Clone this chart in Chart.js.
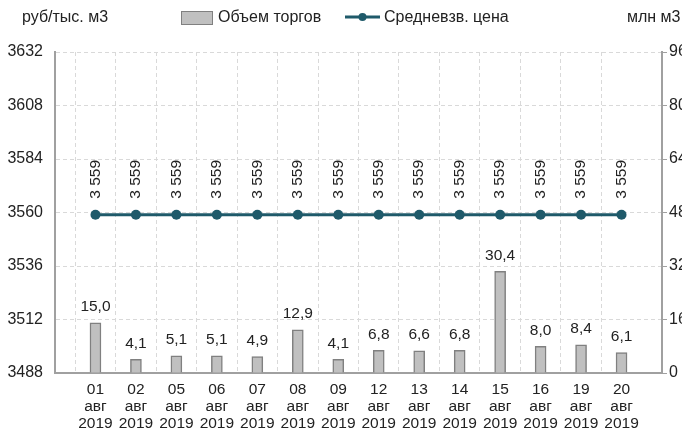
<!DOCTYPE html>
<html>
<head>
<meta charset="utf-8">
<script src="https://cdn.jsdelivr.net/npm/chart.js@4"></script>
<style>
  html, body { margin: 0; padding: 0; background: #fff; }
  #wrap { width: 682px; height: 436px; position: relative; }
</style>
</head>
<body>
<div id="wrap"><canvas id="chart"></canvas></div>
<script>
const dates = ["01", "02", "05", "06", "07", "08", "09", "12", "13", "14", "15", "16", "19", "20"];
const month = "авг";
const year = "2019";
const volumes = [15.0, 4.1, 5.1, 5.1, 4.9, 12.9, 4.1, 6.8, 6.6, 6.8, 30.4, 8.0, 8.4, 6.1];
const prices = [3559, 3559, 3559, 3559, 3559, 3559, 3559, 3559, 3559, 3559, 3559, 3559, 3559, 3559];
const priceTicks = { min: 3488, max: 3632, step: 24 };
const volumeTicks = { min: 0, max: 96, step: 16 };

const FONT = "'Liberation Sans', Arial, sans-serif";
const TEXT = "#222";
const LINE_COLOR = "#1f5a6a";
const GRID = "#d9d9d9";
const AXIS = "#a0a0a0";

const fmtVol = (v) => v.toFixed(1).replace(".", ",");
const fmtPrice = (v) => String(v).replace(/\B(?=(\d{3})+(?!\d))/g, " ");

const labelsPlugin = {
  id: "labels",
  afterDatasetsDraw(chart) {
    const ctx = chart.ctx;
    ctx.save();
    ctx.fillStyle = TEXT;
    ctx.font = `15.5px ${FONT}`;

    const bars = chart.getDatasetMeta(0).data;
    ctx.textAlign = "center";
    ctx.textBaseline = "bottom";
    bars.forEach((b, i) => ctx.fillText(fmtVol(volumes[i]), b.x, b.y - 8));

    const pts = chart.getDatasetMeta(1).data;
    pts.forEach((p, i) => {
      ctx.save();
      ctx.translate(p.x, p.y - 16);
      ctx.rotate(-Math.PI / 2);
      ctx.textAlign = "left";
      ctx.textBaseline = "middle";
      ctx.fillText(fmtPrice(prices[i]), 0, 0);
      ctx.restore();
    });
    ctx.restore();
  },
  afterDraw(chart) {
    const ctx = chart.ctx;
    ctx.save();
    ctx.font = `16px ${FONT}`;
    ctx.fillStyle = TEXT;
    ctx.textBaseline = "middle";
    ctx.textAlign = "left";
    ctx.fillText("руб/тыс. м3", 22, 18);
    ctx.fillText("млн м3", 627, 18);

    // legend: bars
    ctx.fillStyle = "#c0c0c0";
    ctx.strokeStyle = "#808080";
    ctx.lineWidth = 1;
    ctx.fillRect(181.5, 11.5, 31, 13);
    ctx.strokeRect(181.5, 11.5, 31, 13);
    ctx.fillStyle = TEXT;
    ctx.fillText("Объем торгов", 218, 18);

    // legend: line
    ctx.strokeStyle = LINE_COLOR;
    ctx.lineWidth = 3;
    ctx.beginPath();
    ctx.moveTo(345, 17);
    ctx.lineTo(380, 17);
    ctx.stroke();
    ctx.fillStyle = LINE_COLOR;
    ctx.beginPath();
    ctx.arc(362.5, 17, 4, 0, Math.PI * 2);
    ctx.fill();
    ctx.fillStyle = TEXT;
    ctx.fillText("Средневзв. цена", 384, 18);
    ctx.restore();
  },
};

new Chart(document.getElementById("chart"), {
  data: {
    datasets: [
      {
        type: "bar",
        label: "Объем торгов",
        data: volumes.map((v, i) => ({ x: i, y: v })),
        yAxisID: "yVol",
        backgroundColor: "#c0c0c0",
        borderColor: "#808080",
        borderWidth: 1.5,
        barThickness: 11,
        order: 2,
      },
      {
        type: "line",
        label: "Средневзв. цена",
        data: prices.map((v, i) => ({ x: i, y: v })),
        yAxisID: "yPrice",
        borderColor: LINE_COLOR,
        backgroundColor: LINE_COLOR,
        borderWidth: 3,
        pointRadius: 5,
        pointBackgroundColor: LINE_COLOR,
        pointBorderWidth: 0,
        order: 1,
      },
    ],
  },
  options: {
    responsive: true,
    maintainAspectRatio: false,
    animation: false,
    layout: { padding: { top: 52, left: 0, right: 0, bottom: 0 } },
    plugins: { legend: { display: false }, tooltip: { enabled: false } },
    scales: {
      x: {
        type: "linear",
        offset: false,
        min: -1,
        max: dates.length,
        afterFit: (s) => { s.height = 436 - 373; },
        afterBuildTicks: (s) => {
          const t = [];
          for (let i = -1; i <= dates.length; i++) t.push({ value: i });
          s.ticks = t;
        },
        ticks: {
          autoSkip: false,
          maxRotation: 0,
          padding: 8,
          color: TEXT,
          font: { family: FONT, size: 15.5, lineHeight: 1.1 },
          callback: (v) => (v >= 0 && v < dates.length ? [dates[v], month, year] : ""),
        },
        grid: {
          drawTicks: false,
          color: (c) => (c.tick && c.tick.value >= 0 && c.tick.value < dates.length ? GRID : "rgba(0,0,0,0)"),
        },
        border: { color: AXIS, width: 2, dash: [4, 3] },
      },
      yPrice: {
        position: "left",
        min: priceTicks.min,
        max: priceTicks.max,
        afterFit: (s) => { s.width = 55; },
        ticks: {
          stepSize: priceTicks.step,
          padding: 12,
          color: TEXT,
          font: { family: FONT, size: 16 },
          callback: (v) => String(v),
        },
        grid: { color: GRID, drawTicks: false },
        border: { color: AXIS, width: 2, dash: [4, 3] },
      },
      yVol: {
        position: "right",
        min: volumeTicks.min,
        max: volumeTicks.max,
        afterFit: (s) => { s.width = 20; },
        ticks: {
          stepSize: volumeTicks.step,
          padding: 2,
          color: TEXT,
          font: { family: FONT, size: 16 },
        },
        grid: { drawOnChartArea: false, drawTicks: true, tickLength: 5, color: AXIS },
        border: { color: AXIS, width: 2 },
      },
    },
  },
  plugins: [labelsPlugin],
});
</script>
</body>
</html>
